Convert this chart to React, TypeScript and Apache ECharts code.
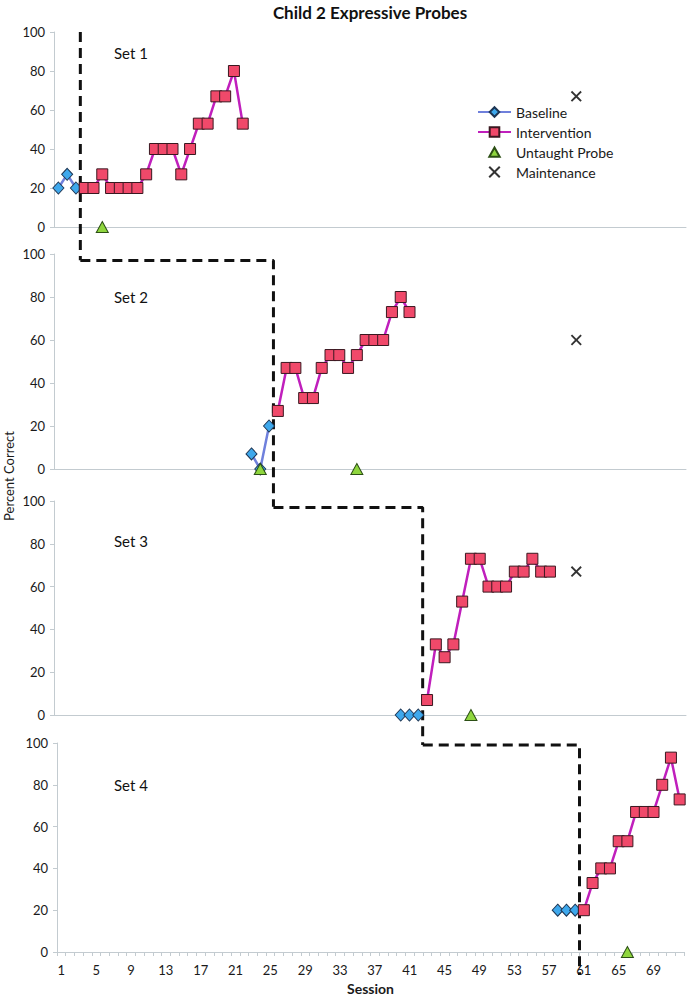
import React, { useEffect, useRef } from "react";
import * as echarts from "echarts";

// ---------- data ----------
const sessions = Array.from({ length: 72 }, (_, i) => String(i + 1));

const set1BaselineX = [1, 2, 3];
const set1BaselineY = [20, 27, 20];
const set1InterventionX = [4, 5, 6, 7, 8, 9, 10, 11, 12, 13, 14, 15, 16, 17, 18, 19, 20, 21, 22];
const set1InterventionY = [20, 20, 27, 20, 20, 20, 20, 27, 40, 40, 40, 27, 40, 53, 53, 67, 67, 80, 53];
const set1ProbeX = [6];
const set1ProbeY = [0];
const set1MaintX = [60];
const set1MaintY = [67];

const set2BaselineX = [23, 24, 25];
const set2BaselineY = [7, 0, 20];
const set2InterventionX = [26, 27, 28, 29, 30, 31, 32, 33, 34, 35, 36, 37, 38, 39, 40, 41];
const set2InterventionY = [27, 47, 47, 33, 33, 47, 53, 53, 47, 53, 60, 60, 60, 73, 80, 73];
const set2ProbeX = [24, 35];
const set2ProbeY = [0, 0];
const set2MaintX = [60];
const set2MaintY = [60];

const set3BaselineX = [40, 41, 42];
const set3BaselineY = [0, 0, 0];
const set3InterventionX = [43, 44, 45, 46, 47, 48, 49, 50, 51, 52, 53, 54, 55, 56, 57];
const set3InterventionY = [7, 33, 27, 33, 53, 73, 73, 60, 60, 60, 67, 67, 73, 67, 67];
const set3ProbeX = [48];
const set3ProbeY = [0];
const set3MaintX = [60];
const set3MaintY = [67];

const set4BaselineX = [58, 59, 60];
const set4BaselineY = [20, 20, 20];
const set4InterventionX = [61, 62, 63, 64, 65, 66, 67, 68, 69, 70, 71, 72];
const set4InterventionY = [20, 33, 40, 40, 53, 53, 67, 67, 67, 80, 93, 73];
const set4ProbeX = [66];
const set4ProbeY = [0];
const set4MaintX: number[] = [];
const set4MaintY: number[] = [];

// phase change line: x of each boundary, level of the step at the top of each panel, bottom reach
const phaseX = [3.5, 25.5, 42.5, 60.5];
const phaseTop = [100, 97, 97, 99];
const phaseBottom = [-17, -17.5, -14, -11];

const setNames = ["Set 1", "Set 2", "Set 3", "Set 4"];
const yTicks = [0, 20, 40, 60, 80, 100];

// ---------- styling ----------
const FONT = "Lato, 'Open Sans', sans-serif";
const AXIS_GRAY = "#c3cbd0";
const grids = [
  { left: 54, top: 32, width: 632, height: 195 },
  { left: 54, top: 254, width: 632, height: 215 },
  { left: 54, top: 501, width: 632, height: 214 },
  { left: 57, top: 743, width: 627, height: 209 },
];
const setLabelY = [53, 297, 541, 785];

const pair = (xs: number[], ys: number[]) => xs.map((x, i) => [x, ys[i]]);

const panels = [
  { b: pair(set1BaselineX, set1BaselineY), iv: pair(set1InterventionX, set1InterventionY), p: pair(set1ProbeX, set1ProbeY), m: pair(set1MaintX, set1MaintY) },
  { b: pair(set2BaselineX, set2BaselineY), iv: pair(set2InterventionX, set2InterventionY), p: pair(set2ProbeX, set2ProbeY), m: pair(set2MaintX, set2MaintY) },
  { b: pair(set3BaselineX, set3BaselineY), iv: pair(set3InterventionX, set3InterventionY), p: pair(set3ProbeX, set3ProbeY), m: pair(set3MaintX, set3MaintY) },
  { b: pair(set4BaselineX, set4BaselineY), iv: pair(set4InterventionX, set4InterventionY), p: pair(set4ProbeX, set4ProbeY), m: pair(set4MaintX, set4MaintY) },
];

const X_PATH = "path://M0,1.2L1.2,0L5,3.8L8.8,0L10,1.2L6.2,5L10,8.8L8.8,10L5,6.2L1.2,10L0,8.8L3.8,5Z";
const TRI_PATH = "path://M5,0L10,9L0,9Z";
const TRI_LEGEND = "path://M0,0L0,0M12,12L12,12M6,1.5L11.2,10.8L0.8,10.8Z";

export default function App() {
  const ref = useRef<HTMLDivElement>(null);
  useEffect(() => {
    if (!ref.current) return;
    const chart = echarts.init(ref.current, null, { renderer: "svg" });

    const xAxis: any[] = grids.map((_, g) => ({
      type: "value",
      gridIndex: g,
      position: g < 3 ? "bottom" : "top",
      min: 0.5,
      max: 72.5,
      show: g < 3,
      axisLine: { show: true, onZero: false, lineStyle: { color: AXIS_GRAY, width: 1 } },
      axisTick: { show: false },
      axisLabel: { show: false },
      splitLine: { show: false },
    }));
    xAxis.push({
      type: "category",
      gridIndex: 3,
      position: "bottom",
      data: sessions,
      boundaryGap: true,
      axisLine: { show: true, onZero: false, lineStyle: { color: AXIS_GRAY, width: 1 } },
      axisTick: { show: true, interval: 0, length: 4, lineStyle: { color: AXIS_GRAY } },
      axisLabel: { interval: 3, margin: 11, fontSize: 13, color: "#1a1a1a", fontFamily: FONT },
      splitLine: { show: false },
      name: "Session",
      nameLocation: "middle",
      nameGap: 29,
      nameTextStyle: { fontSize: 14, fontWeight: "bold", color: "#1a1a1a", fontFamily: FONT },
    });

    const yAxis = grids.map((_, g) => ({
      type: "value",
      gridIndex: g,
      min: yTicks[0],
      max: yTicks[yTicks.length - 1],
      interval: 20,
      axisLine: { show: true, lineStyle: { color: AXIS_GRAY, width: 1 } },
      axisTick: { show: true, length: 4, lineStyle: { color: AXIS_GRAY } },
      axisLabel: { margin: 9, fontSize: 13, color: "#1a1a1a", fontFamily: FONT },
      splitLine: { show: false },
    }));

    const series: any[] = [];
    panels.forEach((p, g) => {
      // phase change dashed line
      const pts: number[][] = [];
      if (g > 0) pts.push([phaseX[g - 1], phaseTop[g]]);
      pts.push([phaseX[g], phaseTop[g]]);
      pts.push([phaseX[g], phaseBottom[g]]);
      series.push({
        type: "line",
        xAxisIndex: g,
        yAxisIndex: g,
        data: pts,
        symbol: "none",
        clip: false,
        silent: true,
        z: 1,
        lineStyle: { color: "#111111", width: 3, type: [10, 6] },
      });
      series.push({
        name: "Baseline",
        type: "line",
        xAxisIndex: g,
        yAxisIndex: g,
        data: p.b,
        symbol: "diamond",
        symbolSize: [11, 12],
        z: 3,
        lineStyle: { color: "#6f80dc", width: 2.5 },
        itemStyle: { color: "#3ea8ec", borderColor: "#1d3553", borderWidth: 1 },
      });
      series.push({
        name: "Intervention",
        type: "line",
        xAxisIndex: g,
        yAxisIndex: g,
        data: p.iv,
        symbol: "rect",
        symbolSize: 11,
        z: 3,
        lineStyle: { color: "#c01fbc", width: 2.5 },
        itemStyle: { color: "#f0496a", borderColor: "#3a1820", borderWidth: 1 },
      });
      series.push({
        name: "Untaught Probe",
        type: "scatter",
        xAxisIndex: g,
        yAxisIndex: g,
        data: p.p,
        symbol: TRI_PATH,
        symbolSize: [12, 11],
        z: 4,
        itemStyle: { color: "#8fd63e", borderColor: "#2c4f15", borderWidth: 1, opacity: 1 },
      });
      series.push({
        name: "Maintenance",
        type: "scatter",
        xAxisIndex: g,
        yAxisIndex: g,
        data: p.m,
        symbol: X_PATH,
        symbolSize: 11,
        z: 4,
        itemStyle: { color: "#333333", opacity: 1 },
      });
    });

    const graphic: any[] = [
      {
        type: "text",
        x: 370,
        y: 12,
        style: {
          text: "Child 2 Expressive Probes",
          fontSize: 17,
          fontWeight: "bold",
          fontFamily: FONT,
          fill: "#111111",
          align: "center",
          verticalAlign: "middle",
        },
      },
      {
        type: "text",
        x: 9,
        y: 476,
        rotation: Math.PI / 2,
        style: {
          text: "Percent Correct",
          fontSize: 13,
          fontFamily: FONT,
          fill: "#1a1a1a",
          align: "center",
          verticalAlign: "middle",
        },
      },
      ...setNames.map((s, i) => ({
        type: "text",
        x: 114,
        y: setLabelY[i],
        style: {
          text: s,
          fontSize: 15,
          fontFamily: FONT,
          fill: "#111111",
          align: "left",
          verticalAlign: "middle",
        },
      })),
    ];

    chart.setOption({
      animation: false,
      backgroundColor: "#ffffff",
      textStyle: { fontFamily: FONT },
      grid: grids.map((g) => ({ ...g, containLabel: false })),
      xAxis,
      yAxis,
      legend: {
        data: [
          "Baseline",
          "Intervention",
          { name: "Untaught Probe", icon: TRI_LEGEND },
          "Maintenance",
        ],
        orient: "vertical",
        left: 472,
        top: 100,
        itemWidth: 33,
        itemHeight: 12,
        itemGap: 6,
        selectedMode: false,
        textStyle: { fontSize: 14, color: "#1a1a1a", fontFamily: FONT },
      },
      series,
      graphic,
    });
    return () => chart.dispose();
  }, []);

  return (
    <div
      ref={ref}
      style={{ position: "fixed", left: 0, top: 0, width: 688, height: 997, background: "#fff" }}
    />
  );
}
